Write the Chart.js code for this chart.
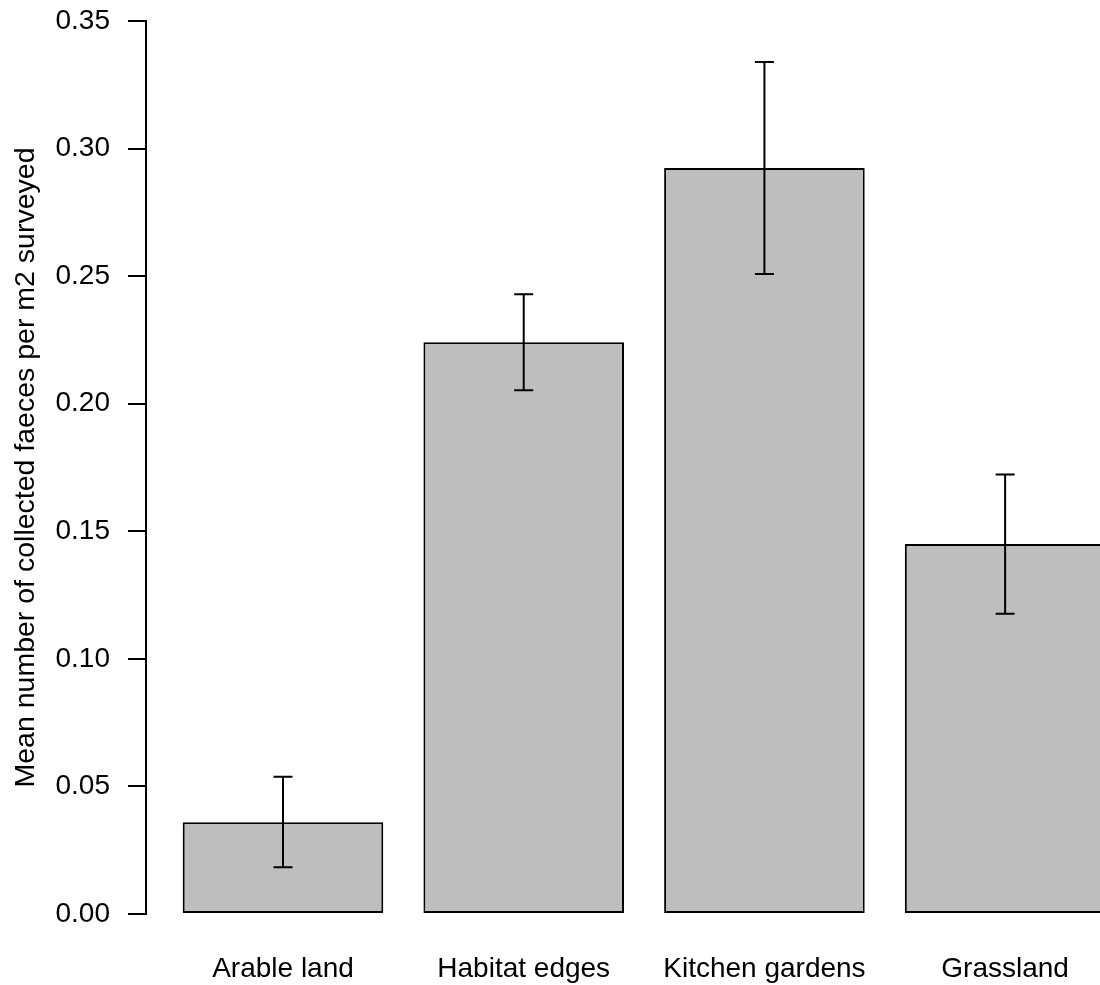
<!DOCTYPE html>
<html>
<head>
<meta charset="utf-8">
<script src="https://cdn.jsdelivr.net/npm/chart.js@4.4.1/dist/chart.umd.min.js"></script>
<style>
  html, body { margin: 0; padding: 0; background: #ffffff; overflow: hidden; }
  #wrap { width: 1100px; height: 985px; position: relative; }
</style>
</head>
<body>
<div id="wrap"><canvas id="c" width="1100" height="985"></canvas></div>
<script>
// ---- data ----
const categories = ["Arable land", "Habitat edges", "Kitchen gardens", "Grassland"];
const barPositions = [0.7, 1.9, 3.1, 4.3];
const meanValues = [0.0360, 0.2241, 0.2924, 0.1450];
const lowerValues = [0.0183, 0.2053, 0.2508, 0.1177];
const upperValues = [0.0538, 0.2429, 0.3339, 0.1723];
const yTickValues = [0, 0.05, 0.10, 0.15, 0.20, 0.25, 0.30, 0.35];
const yTitle = "Mean number of collected faeces per m2 surveyed";

const FONT = "'Liberation Sans', Arial, Helvetica, sans-serif";

const errorBarPlugin = {
  id: 'errorBars',
  afterDatasetsDraw(chart) {
    const ctx = chart.ctx;
    const xs = chart.scales.x, ys = chart.scales.y;
    ctx.save();
    ctx.strokeStyle = '#000000';
    ctx.lineWidth = 2;
    const cap = 9.5;
    for (let i = 0; i < barPositions.length; i++) {
      const x = xs.getPixelForValue(barPositions[i]);
      const yl = ys.getPixelForValue(lowerValues[i]);
      const yu = ys.getPixelForValue(upperValues[i]);
      ctx.beginPath();
      ctx.moveTo(x, yl); ctx.lineTo(x, yu);
      ctx.moveTo(x - cap, yl); ctx.lineTo(x + cap, yl);
      ctx.moveTo(x - cap, yu); ctx.lineTo(x + cap, yu);
      ctx.stroke();
    }
    ctx.restore();
  }
};

new Chart(document.getElementById('c'), {
  type: 'bar',
  data: {
    datasets: [{
      data: barPositions.map((x, i) => ({ x: x, y: meanValues[i] })),
      backgroundColor: '#bebebe',
      borderColor: '#000000',
      borderWidth: 2,
      borderSkipped: false,
      categoryPercentage: 1 / 1.2,
      barPercentage: 1.0,
      clip: false
    }]
  },
  plugins: [errorBarPlugin],
  options: {
    responsive: false,
    animation: false,
    devicePixelRatio: 1,
    layout: { padding: { top: 21, right: 0, bottom: 0, left: 0 } },
    plugins: { legend: { display: false }, tooltip: { enabled: false } },
    scales: {
      x: {
        type: 'linear',
        offset: false,
        min: 0.017,
        max: 4.773,
        grid: { display: false, drawTicks: true, tickLength: 38, offset: false },
        border: { display: false },
        afterBuildTicks(scale) {
          scale.ticks = barPositions.map(v => ({ value: v }));
        },
        afterFit(scale) { scale.height = 71; },
        ticks: {
          autoSkip: false,
          maxRotation: 0,
          padding: 0,
          color: '#000000',
          font: { family: FONT, size: 28 },
          callback: function (value) {
            const idx = barPositions.indexOf(value);
            return idx >= 0 ? categories[idx] : '';
          }
        }
      },
      y: {
        type: 'linear',
        min: 0,
        max: 0.35,
        afterBuildTicks(scale) {
          scale.ticks = yTickValues.map(v => ({ value: v }));
        },
        afterFit(scale) { scale.width = 146; },
        grid: {
          display: true,
          drawOnChartArea: false,
          drawTicks: true,
          tickLength: 18,
          color: '#000000',
          lineWidth: 2
        },
        border: { display: true, color: '#000000', width: 2 },
        ticks: {
          padding: 18,
          color: '#000000',
          font: { family: FONT, size: 28, lineHeight: 0.2 },
          callback: v => Number(v).toFixed(2)
        },
        title: {
          display: true,
          text: yTitle,
          color: '#000000',
          font: { family: FONT, size: 28.5 },
          padding: { top: 9, bottom: 0 }
        }
      }
    }
  }
});
</script>
</body>
</html>
